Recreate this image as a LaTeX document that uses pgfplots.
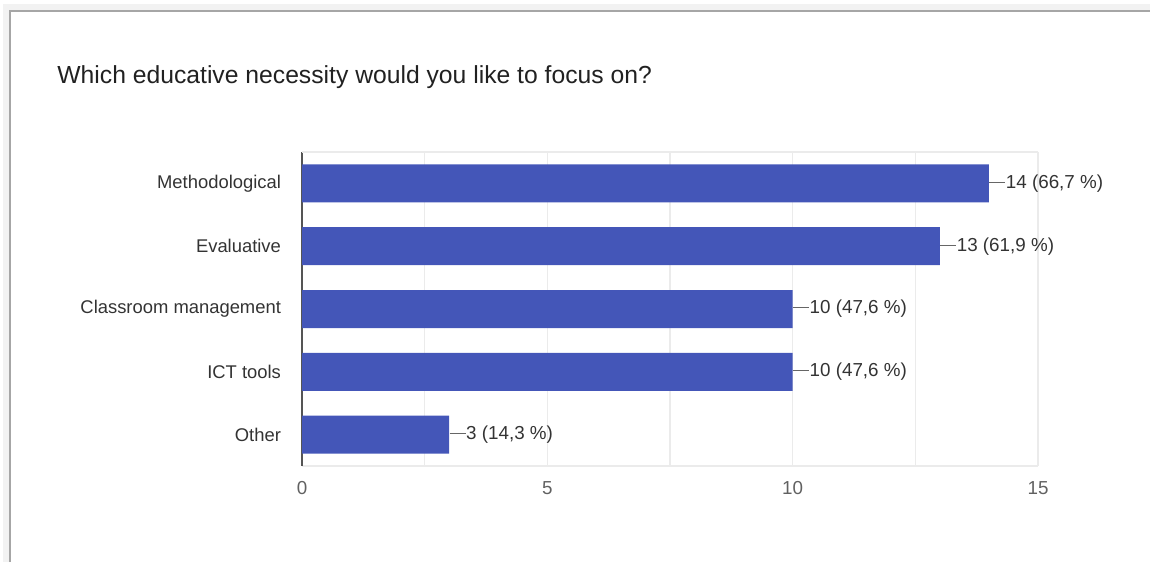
\documentclass[border=0pt]{standalone}
\usepackage{fontspec}
\setmainfont{Liberation Sans}
\usepackage{pgfplots}
\pgfplotsset{compat=1.18}
\definecolor{barblue}{HTML}{4456B8}
\definecolor{txt}{HTML}{333333}
\definecolor{ttl}{HTML}{212121}
\definecolor{gridc}{HTML}{EBEBEB}
\definecolor{spine}{HTML}{555555}
\begin{document}
\begin{tikzpicture}
\path[use as bounding box] (0,0) rectangle (575pt,281pt);
% screenshot frame (top and left edges) with soft outer shadow
\draw[line width=3pt, black!5] (3pt,0) -- (3pt,277.5pt) -- (575pt,277.5pt);
\draw[line width=0.9pt, black!35] (5pt,0) -- (5pt,275.5pt) -- (575pt,275.5pt);
\node[anchor=base west, inner sep=0pt, text=ttl, font=\fontsize{12.35}{15}\selectfont]
  at (28.5pt,239pt) {Which educative necessity would you like to focus on?};
\begin{axis}[
  at={(151pt,48pt)}, anchor=south west,
  scale only axis, width=368pt, height=157pt,
  xbar, bar width=19pt,
  xmin=0, xmax=15, ymin=-0.5, ymax=4.5, y dir=reverse,
  ytick={0,1,2,3,4},
  yticklabels={Methodological,Evaluative,Classroom management,ICT tools,Other},
  xtick={0,5,10,15},
  minor xtick={2.5,7.5,12.5},
  xmajorgrids, xminorgrids,
  major grid style={gridc, line width=0.6pt},
  minor grid style={gridc, line width=0.6pt},
  major tick length=0pt, minor tick length=0pt,
  axis x line*=bottom, axis y line*=left,
  x axis line style={-, gridc, line width=0.8pt},
  y axis line style={-, spine, line width=1pt},
  extra y ticks={-0.5}, extra y tick labels={},
  extra y tick style={ymajorgrids=true, major grid style={gridc, line width=0.6pt}},
  /pgf/number format/assume math mode=true,
  tick label style={font=\fontsize{9.4}{11}\selectfont},
  yticklabel style={text=txt, xshift=-7pt, font=\fontsize{9.2}{11}\selectfont},
  xticklabel style={text=black!62, yshift=-4pt},
  point meta=explicit symbolic,
  nodes near coords={\raisebox{0.55ex}{\color{black!60}\rule{8pt}{0.5pt}}\kern0.3pt\pgfplotspointmeta},
  every node near coord/.append style={anchor=west, inner sep=0pt, xshift=0pt, text=txt, font=\fontsize{9.4}{11}\selectfont},
  clip=false,
]
\addplot[fill=barblue, draw=none] coordinates {
  (14,0) [14 (66,7 \%)]
  (13,1) [13 (61,9 \%)]
  (10,2) [10 (47,6 \%)]
  (10,3) [10 (47,6 \%)]
  (3,4)  [3 (14,3 \%)]
};
\end{axis}
\end{tikzpicture}
\end{document}
